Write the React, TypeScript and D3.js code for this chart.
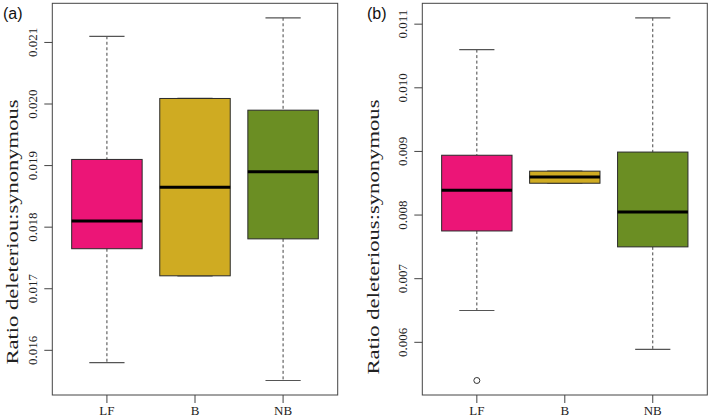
import React from "react";
import * as d3 from "d3";

const categories = ["LF", "B", "NB"];
const colors = ["#EC1577", "#CFAB22", "#6B8E23"];

// Panel (a)
const aLower = [0.0158, 0.01721, 0.01551];
const aQ1 = [0.01765, 0.01721, 0.01781];
const aMedian = [0.0181, 0.01865, 0.0189];
const aQ3 = [0.0191, 0.02009, 0.0199];
const aUpper = [0.0211, 0.02009, 0.0214];
const aOutliers: { cat: number; value: number }[] = [];
const aTicks = [0.016, 0.017, 0.018, 0.019, 0.02, 0.021];

// Panel (b)
const bLower = [0.0065, 0.0085, 0.00589];
const bQ1 = [0.00775, 0.0085, 0.0075];
const bMedian = [0.00839, 0.0086, 0.00805];
const bQ3 = [0.00894, 0.00869, 0.00899];
const bUpper = [0.0106, 0.00869, 0.0111];
const bOutliers = [{ cat: 0, value: 0.0054 }];
const bTicks = [0.006, 0.007, 0.008, 0.009, 0.01, 0.011];

const W = 709;
const H = 418;
const TOP = 3.3;
const BOTTOM = 395;
const SERIF = "'Liberation Serif', 'Times New Roman', serif";
const SANS = "'Liberation Sans', Arial, sans-serif";

type PanelProps = {
  left: number;
  right: number;
  lower: number[];
  q1: number[];
  median: number[];
  q3: number[];
  upper: number[];
  outliers: { cat: number; value: number }[];
  ticks: number[];
  title: string;
  titleX: number;
  titleY: number;
  titleLen: number;
  tag: string;
  tagX: number;
};

function Panel(p: PanelProps) {
  const all = [...p.lower, ...p.upper, ...p.outliers.map((o) => o.value)];
  const mn = d3.min(all) as number;
  const mx = d3.max(all) as number;
  const pad = (mx - mn) * 0.04;
  const y = d3.scaleLinear().domain([mn - pad, mx + pad]).range([BOTTOM, TOP]);
  const x = d3.scaleLinear().domain([0.38, 3.62]).range([p.left, p.right]);
  const fmt = d3.format(".3f");
  const bw = 0.4;
  const sw = 0.2;
  return (
    <g>
      {categories.map((c, i) => {
        const cx = x(i + 1);
        const x0 = x(i + 1 - bw);
        const x1 = x(i + 1 + bw);
        return (
          <g key={c}>
            <line x1={cx} x2={cx} y1={y(p.upper[i])} y2={y(p.q3[i])} stroke="#444" strokeWidth={1} strokeDasharray="3,2.5" />
            <line x1={cx} x2={cx} y1={y(p.q1[i])} y2={y(p.lower[i])} stroke="#444" strokeWidth={1} strokeDasharray="3,2.5" />
            <line x1={x(i + 1 - sw)} x2={x(i + 1 + sw)} y1={y(p.upper[i])} y2={y(p.upper[i])} stroke="#555" strokeWidth={1.2} />
            <line x1={x(i + 1 - sw)} x2={x(i + 1 + sw)} y1={y(p.lower[i])} y2={y(p.lower[i])} stroke="#555" strokeWidth={1.2} />
            <rect x={x0} y={y(p.q3[i])} width={x1 - x0} height={y(p.q1[i]) - y(p.q3[i])} fill={colors[i]} stroke="#2a2a2a" strokeWidth={1} />
            <line x1={x0} x2={x1} y1={y(p.median[i])} y2={y(p.median[i])} stroke="#000" strokeWidth={3} />
          </g>
        );
      })}
      {p.outliers.map((o, k) => (
        <circle key={k} cx={x(o.cat + 1)} cy={y(o.value)} r={3} fill="none" stroke="#333" strokeWidth={1} />
      ))}
      <rect x={p.left} y={TOP} width={p.right - p.left} height={BOTTOM - TOP} fill="none" stroke="#444" strokeWidth={1} />
      {p.ticks.map((t) => (
        <g key={t}>
          <line x1={p.left - 8} x2={p.left} y1={y(t)} y2={y(t)} stroke="#444" strokeWidth={1} />
          <text
            transform={`translate(${p.left - 15},${y(t)}) rotate(-90)`}
            textAnchor="middle"
            fontFamily={SERIF}
            fontSize={13}
            fill="#222"
          >
            {fmt(t)}
          </text>
        </g>
      ))}
      {categories.map((c, i) => (
        <g key={c}>
          <line x1={x(i + 1)} x2={x(i + 1)} y1={BOTTOM} y2={BOTTOM + 8} stroke="#444" strokeWidth={1} />
          <text x={x(i + 1)} y={415} textAnchor="middle" fontFamily={SERIF} fontSize={13} fill="#222">
            {c}
          </text>
        </g>
      ))}
      <text
        transform={`translate(${p.titleX},${p.titleY}) rotate(-90)`}
        textAnchor="middle"
        fontFamily={SERIF}
        fontSize={17}
        fill="#222"
        textLength={p.titleLen}
        lengthAdjust="spacingAndGlyphs"
      >
        {p.title}
      </text>
      <text x={p.tagX} y={19} fontFamily={SANS} fontSize={16} fill="#111">
        {p.tag}
      </text>
    </g>
  );
}

export default function App() {
  return (
    <svg width={W} height={H} style={{ position: "absolute", left: 0, top: 0, background: "#fff" }}>
      <rect width={W} height={H} fill="#fff" />
      <Panel
        left={52.3}
        right={337.7}
        lower={aLower}
        q1={aQ1}
        median={aMedian}
        q3={aQ3}
        upper={aUpper}
        outliers={aOutliers}
        ticks={aTicks}
        title="Ratio deleteriou:synonymous"
        titleX={18}
        titleY={232}
        titleLen={265}
        tag="(a)"
        tagX={3}
      />
      <Panel
        left={422.3}
        right={707.3}
        lower={bLower}
        q1={bQ1}
        median={bMedian}
        q3={bQ3}
        upper={bUpper}
        outliers={bOutliers}
        ticks={bTicks}
        title="Ratio deleterious:synonymous"
        titleX={379}
        titleY={237}
        titleLen={275}
        tag="(b)"
        tagX={367}
      />
    </svg>
  );
}
